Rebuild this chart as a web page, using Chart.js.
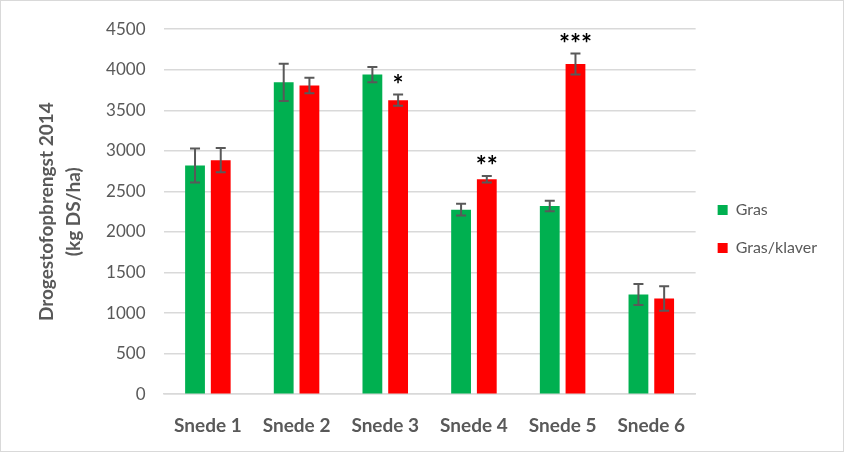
<!DOCTYPE html>
<html>
<head>
<meta charset="utf-8">
<script src="https://cdn.jsdelivr.net/npm/chart.js@4.4.1/dist/chart.umd.min.js"></script>
<style>
  html, body { margin: 0; padding: 0; background: #fff; }
  #wrap { position: relative; width: 842px; height: 450px; border: 1px solid #d9d9d9; }
</style>
</head>
<body>
<div id="wrap"><canvas id="yieldChart"></canvas></div>
<script>
// values
let categories = ['Snede 1', 'Snede 2', 'Snede 3', 'Snede 4', 'Snede 5', 'Snede 6'];
let gras = [2820, 3845, 3940, 2275, 2320, 1230];
let grasKlaver = [2885, 3805, 3625, 2650, 4070, 1180];
let grasErr = [210, 230, 95, 73, 65, 130];
let grasKlaverErr = [150, 95, 70, 40, 130, 150];
let significance = ['', '', '*', '**', '***', ''];

// error bars and significance stars, drawn after the bars
let errorBarPlugin = {
    id: 'errorBars',
    afterDatasetsDraw(chart) {
        let ctx = chart.ctx;
        let y = chart.scales.y;
        let errs = [grasErr, grasKlaverErr];
        ctx.save();
        chart.data.datasets.forEach((ds, i) => {
            let meta = chart.getDatasetMeta(i);
            meta.data.forEach((bar, j) => {
                let v = ds.data[j];
                let top = y.getPixelForValue(v + errs[i][j]);
                let bot = y.getPixelForValue(v - errs[i][j]);
                ctx.strokeStyle = '#595959';
                ctx.lineWidth = 2;
                ctx.beginPath();
                ctx.moveTo(bar.x, top); ctx.lineTo(bar.x, bot);
                ctx.moveTo(bar.x - 5, top); ctx.lineTo(bar.x + 5, top);
                ctx.moveTo(bar.x - 5, bot); ctx.lineTo(bar.x + 5, bot);
                ctx.stroke();
                if (i == 1 && significance[j]) {
                    ctx.fillStyle = '#000';
                    ctx.font = 'bold 26px Lato';
                    ctx.textAlign = 'center';
                    ctx.textBaseline = 'middle';
                    ctx.fillText(significance[j], bar.x, top - 9);
                }
            });
        });
        ctx.restore();
    }
};

let options = {
    maintainAspectRatio: false,
    responsive: true,
    animation: false,
    layout: {
        padding: { top: 0, right: 16, bottom: -6, left: 28 }
    },
    datasets: {
        bar: {
            categoryPercentage: 0.58,
            barPercentage: 0.77
        }
    },
    scales: {
        y: {
            min: 0,
            max: 4500,
            ticks: {
                stepSize: 500,
                color: '#595959',
                padding: 18,
                font: { family: 'Lato', size: 17 },
                callback: (v) => String(v)
            },
            grid: { color: '#d9d9d9', lineWidth: 1.5, drawTicks: false },
            border: { display: false },
            title: {
                display: true,
                text: ['Drogestofopbrengst 2014', '(kg DS/ha)'],
                color: '#595959',
                font: { family: 'Lato', size: 19, weight: 'bold', lineHeight: 1.45 },
                padding: { top: 4, bottom: 0 }
            }
        },
        x: {
            ticks: {
                color: '#595959',
                padding: 20,
                maxRotation: 0,
                font: { family: 'Lato', size: 19, weight: 'bold' }
            },
            grid: { display: false, drawTicks: false },
            border: { color: '#d9d9d9', width: 1.5 }
        }
    },
    plugins: {
        legend: {
            position: 'right',
            labels: {
                boxWidth: 10,
                boxHeight: 10,
                padding: 22,
                color: '#595959',
                font: { family: 'Lato', size: 16 }
            }
        },
        tooltip: { enabled: false }
    }
};

new Chart(document.getElementById('yieldChart'), {
    type: 'bar',
    data: {
        labels: categories,
        datasets: [
            { label: 'Gras', data: gras, backgroundColor: '#00b050' },
            { label: 'Gras/klaver', data: grasKlaver, backgroundColor: '#ff0000' }
        ]
    },
    options: options,
    plugins: [errorBarPlugin]
});
</script>
</body>
</html>
